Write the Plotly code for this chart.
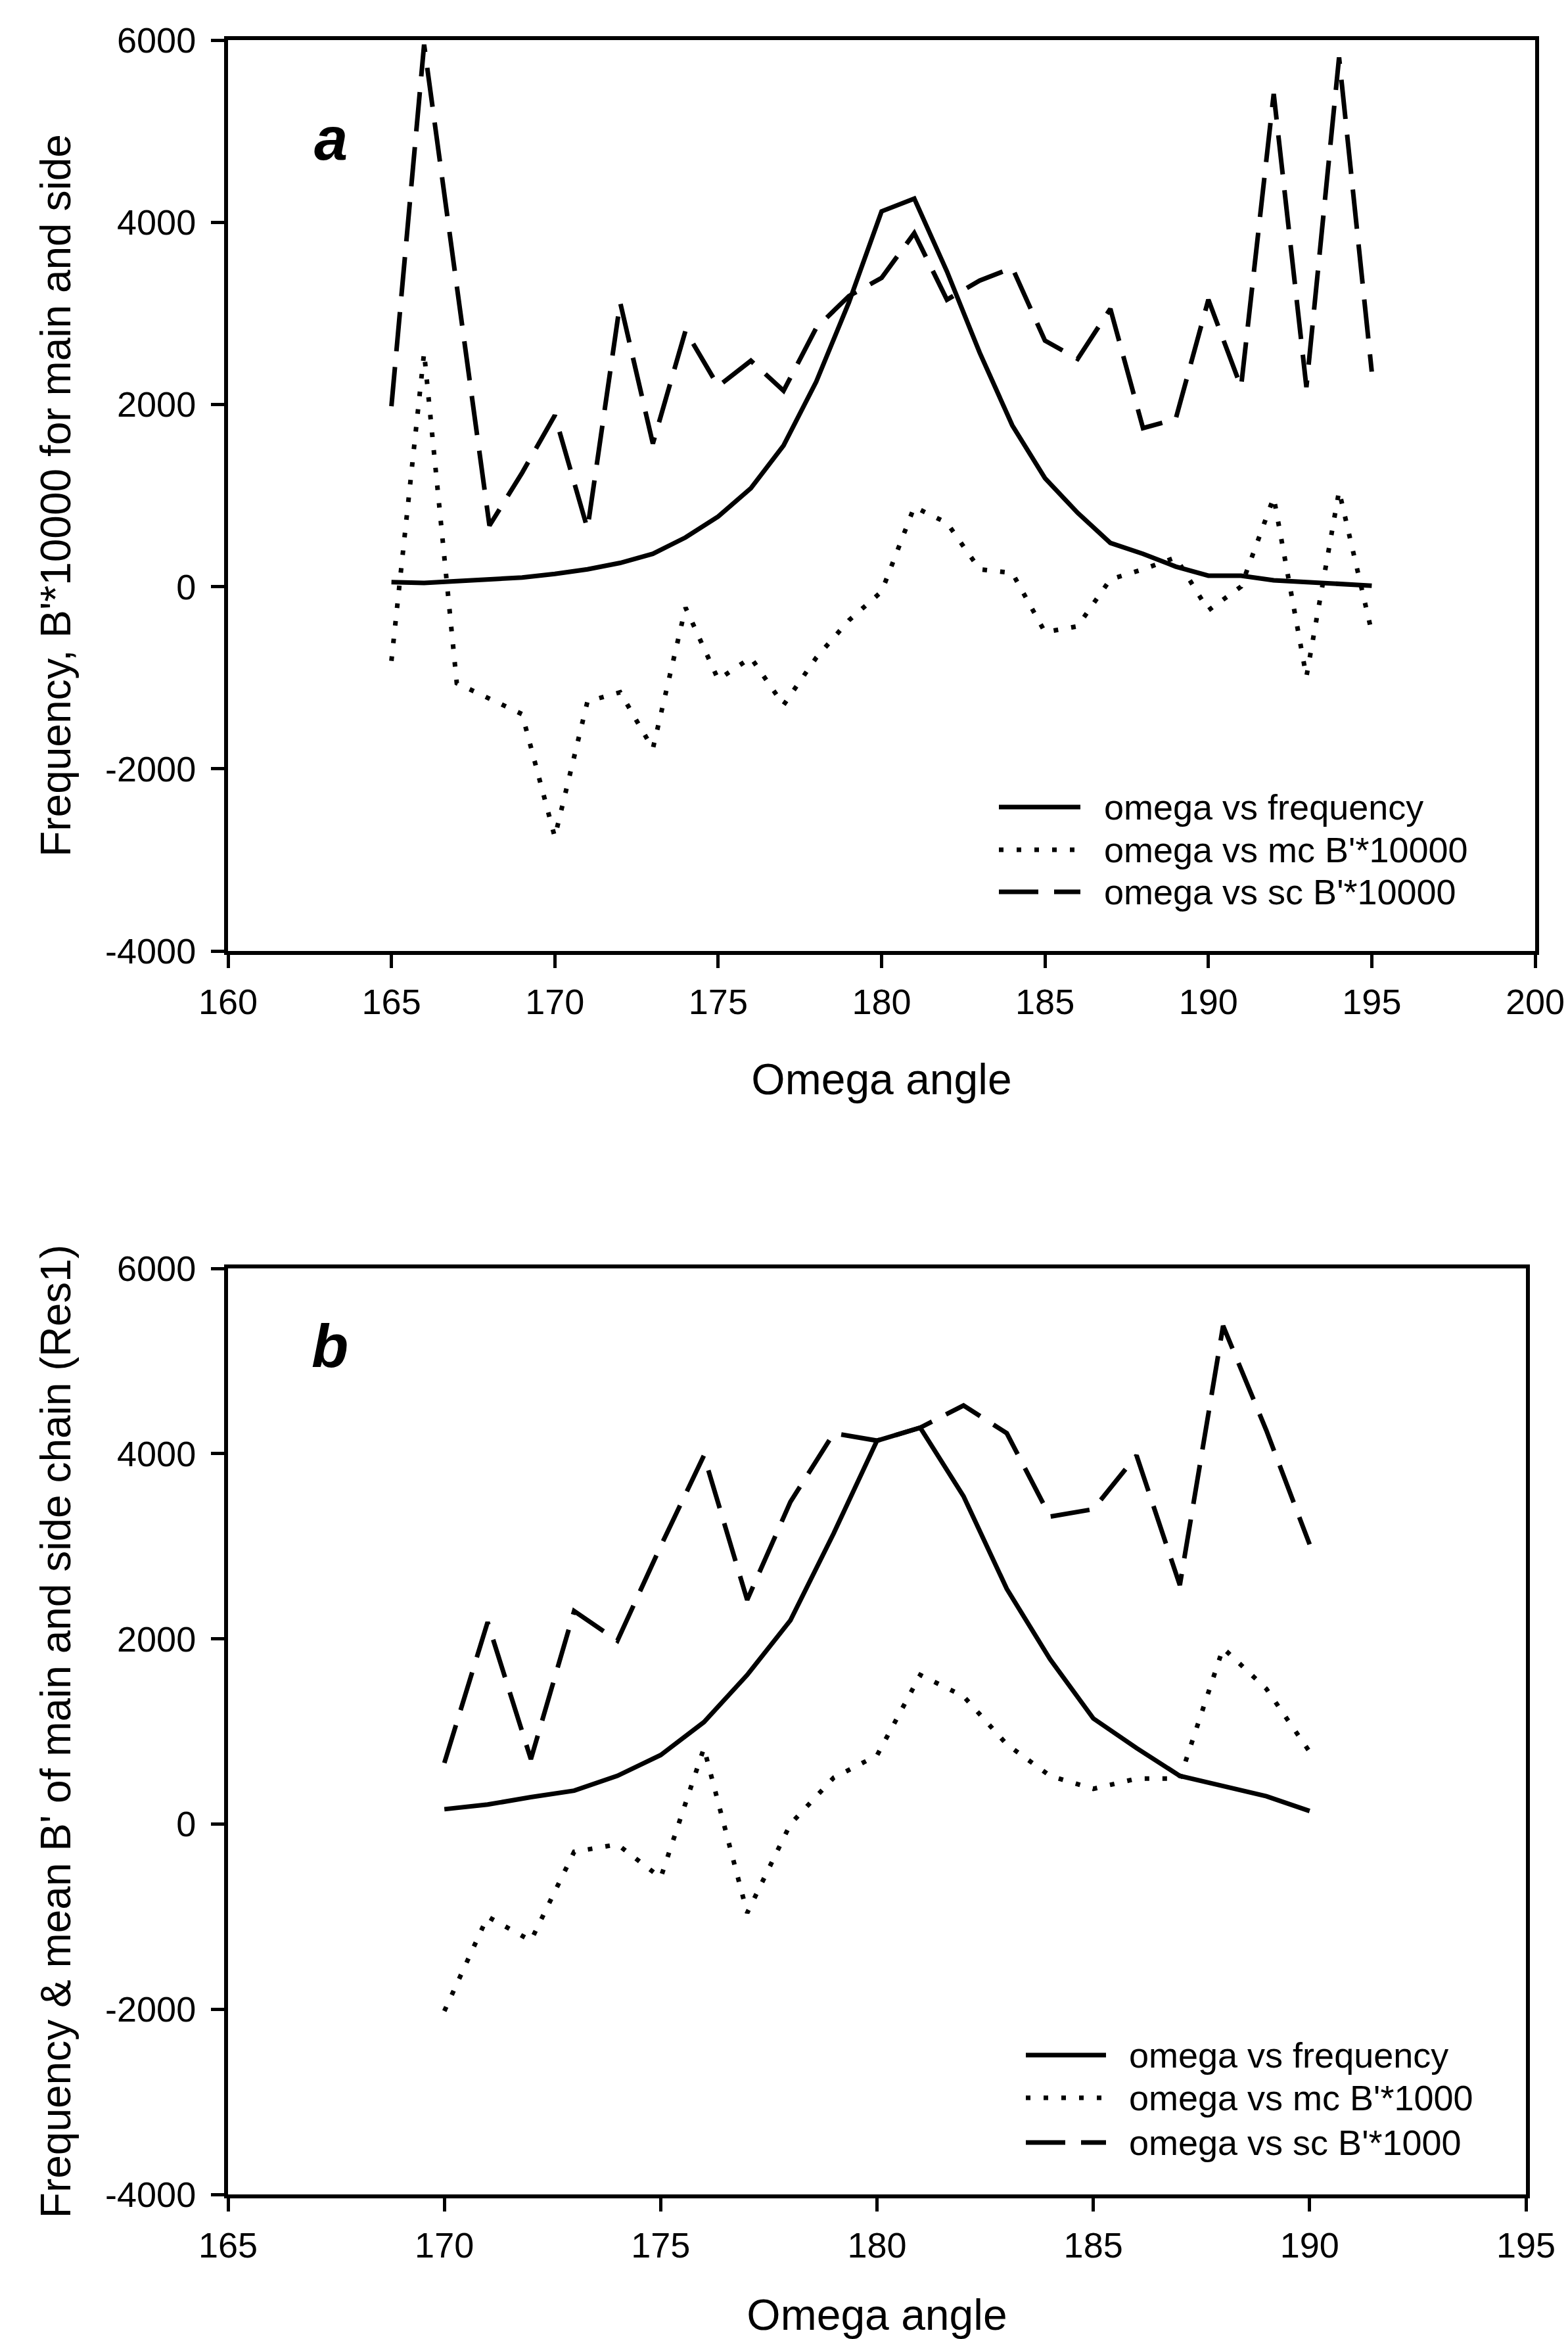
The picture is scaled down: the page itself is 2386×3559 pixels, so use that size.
import plotly.graph_objects as go

# ---------------- data ----------------
omega_a = list(range(165, 196))
freq_a = [50, 40, 60, 80, 100, 140, 190, 260, 360, 540, 770, 1080, 1550, 2250, 3120,
          4120, 4260, 3460, 2570, 1770, 1190, 810, 480, 360, 220, 120, 120, 70, 50, 20, 10]
mc_a = [-815, 2570, -1060, -1230, -1400, -2750, -1260, -1160, -1780, -230, -1020, -780,
        -1300, -780, -370, -55, 875, 700, 190, 150, -500, -435, 80, 190, 320, -260, 0,
        980, -990, 1050, -500]
sc_a = [1980, 5950, 3300, 670, 1250, 1880, 635, 3120, 1570, 2810, 2200, 2480, 2150, 2840,
        3190, 3390, 3880, 3150, 3360, 3500, 2700, 2500, 3050, 1740, 1840, 3150, 2190, 5410,
        2190, 5810, 2360]

omega_b = list(range(170, 191))
freq_b = [160, 210, 290, 360, 520, 745, 1100, 1610, 2200, 3140, 4140, 4280, 3540, 2540,
          1780, 1140, 820, 520, 410, 300, 140]
mc_b = [-2020, -1000, -1260, -300, -220, -580, 820, -960, 0, 500, 740, 1610, 1380, 860,
        520, 380, 490, 490, 1900, 1460, 780]
sc_b = [660, 2180, 700, 2300, 1980, 3000, 3980, 2420, 3480, 4220, 4140, 4280, 4520, 4220,
        3320, 3400, 3980, 2580, 5380, 4250, 3020]

names_a = ["omega vs frequency", "omega vs mc B'*10000", "omega vs sc B'*10000"]
names_b = ["omega vs frequency", "omega vs mc B'*1000", "omega vs sc B'*1000"]

y_tickvals = [-4000, -2000, 0, 2000, 4000, 6000]
y_ticktext = ["-4000", "-2000", "0", "2000", "4000", "6000"]
x_ticks_a = [160, 165, 170, 175, 180, 185, 190, 195, 200]
x_ticks_b = [165, 170, 175, 180, 185, 190, 195]

# ---------------- figure ----------------
W, H = 2386, 3559
FONT = "Liberation Sans, Arial, Helvetica, sans-serif"
DASHES = ["solid", "7px,20px", "60px,24px"]
LW = 7

fig = go.Figure()

for y, name, dash in zip([freq_a, mc_a, sc_a], names_a, DASHES):
    fig.add_trace(go.Scatter(x=omega_a, y=y, mode="lines", name=name, showlegend=False,
                             line=dict(color="black", width=LW, dash=dash),
                             xaxis="x", yaxis="y"))
for y, name, dash in zip([freq_b, mc_b, sc_b], names_b, DASHES):
    fig.add_trace(go.Scatter(x=omega_b, y=y, mode="lines", name=name, showlegend=False,
                             line=dict(color="black", width=LW, dash=dash),
                             xaxis="x2", yaxis="y2"))

xa = [347 / W, 2336 / W]
xb = [347 / W, 2322 / W]
ya = [1 - 1447 / H, 1 - 61 / H]
yb = [1 - 3339 / H, 1 - 1930 / H]

axis_common = dict(showgrid=False, zeroline=False, showline=True, linecolor="black",
                   linewidth=6, mirror=True, ticks="outside", ticklen=20, tickwidth=5,
                   tickcolor="black", automargin=False,
                   tickfont=dict(family=FONT, size=54, color="black"))
xt = dict(ticklabelstandoff=5, tickmode="array")
yt = dict(ticklabelstandoff=12, tickmode="array", tickvals=y_tickvals, ticktext=y_ticktext)

# manual legends (long sample lines like the original)
shapes, annotations = [], []
legend_specs = [
    (names_a, 1520, 1644, 1678, [1228, 1293, 1357]),
    (names_b, 1561, 1683, 1716, [3127, 3192, 3260]),
]
for names, lx0, lx1, tx, rows in legend_specs:
    for name, dash, ry in zip(names, DASHES, rows):
        yy = 1 - ry / H
        shapes.append(dict(type="line", xref="paper", yref="paper",
                           x0=lx0 / W, x1=lx1 / W, y0=yy, y1=yy,
                           line=dict(color="black", width=LW, dash=dash)))
        annotations.append(dict(text=name, x=tx / W, y=yy, xref="paper", yref="paper",
                                xanchor="left", yanchor="middle", showarrow=False,
                                font=dict(family=FONT, size=54, color="black")))

annotations += [
    dict(text="<b><i>a</i></b>", x=476 / W, y=1 - 158 / H, xref="paper", yref="paper",
         showarrow=False, font=dict(family=FONT, size=92, color="black")),
    dict(text="<b><i>b</i></b>", x=472 / W, y=1 - 2048 / H, xref="paper", yref="paper",
         showarrow=False, font=dict(family=FONT, size=92, color="black")),
]

fig.update_layout(
    width=W, height=H,
    margin=dict(l=0, r=0, t=0, b=0, autoexpand=False),
    paper_bgcolor="white", plot_bgcolor="white",
    font=dict(family=FONT, color="black"),
    showlegend=False,
    xaxis=dict(domain=xa, range=[160, 200], tickvals=x_ticks_a, anchor="y",
               title=dict(text="Omega angle", font=dict(size=66), standoff=68),
               **xt, **axis_common),
    yaxis=dict(domain=ya, range=[-4000, 6000], anchor="x",
               title=dict(text="Frequency, B'*10000 for main and side", font=dict(size=64),
                          standoff=34),
               **yt, **axis_common),
    xaxis2=dict(domain=xb, range=[165, 195], tickvals=x_ticks_b, anchor="y2",
                title=dict(text="Omega angle", font=dict(size=66), standoff=68),
                **xt, **axis_common),
    yaxis2=dict(domain=yb, range=[-4000, 6000], anchor="x2",
                title=dict(text="Frequency & mean B' of main and side chain (Res1)",
                           font=dict(size=64), standoff=34),
                **yt, **axis_common),
    shapes=shapes,
    annotations=annotations,
)

fig.write_html("out.html")
